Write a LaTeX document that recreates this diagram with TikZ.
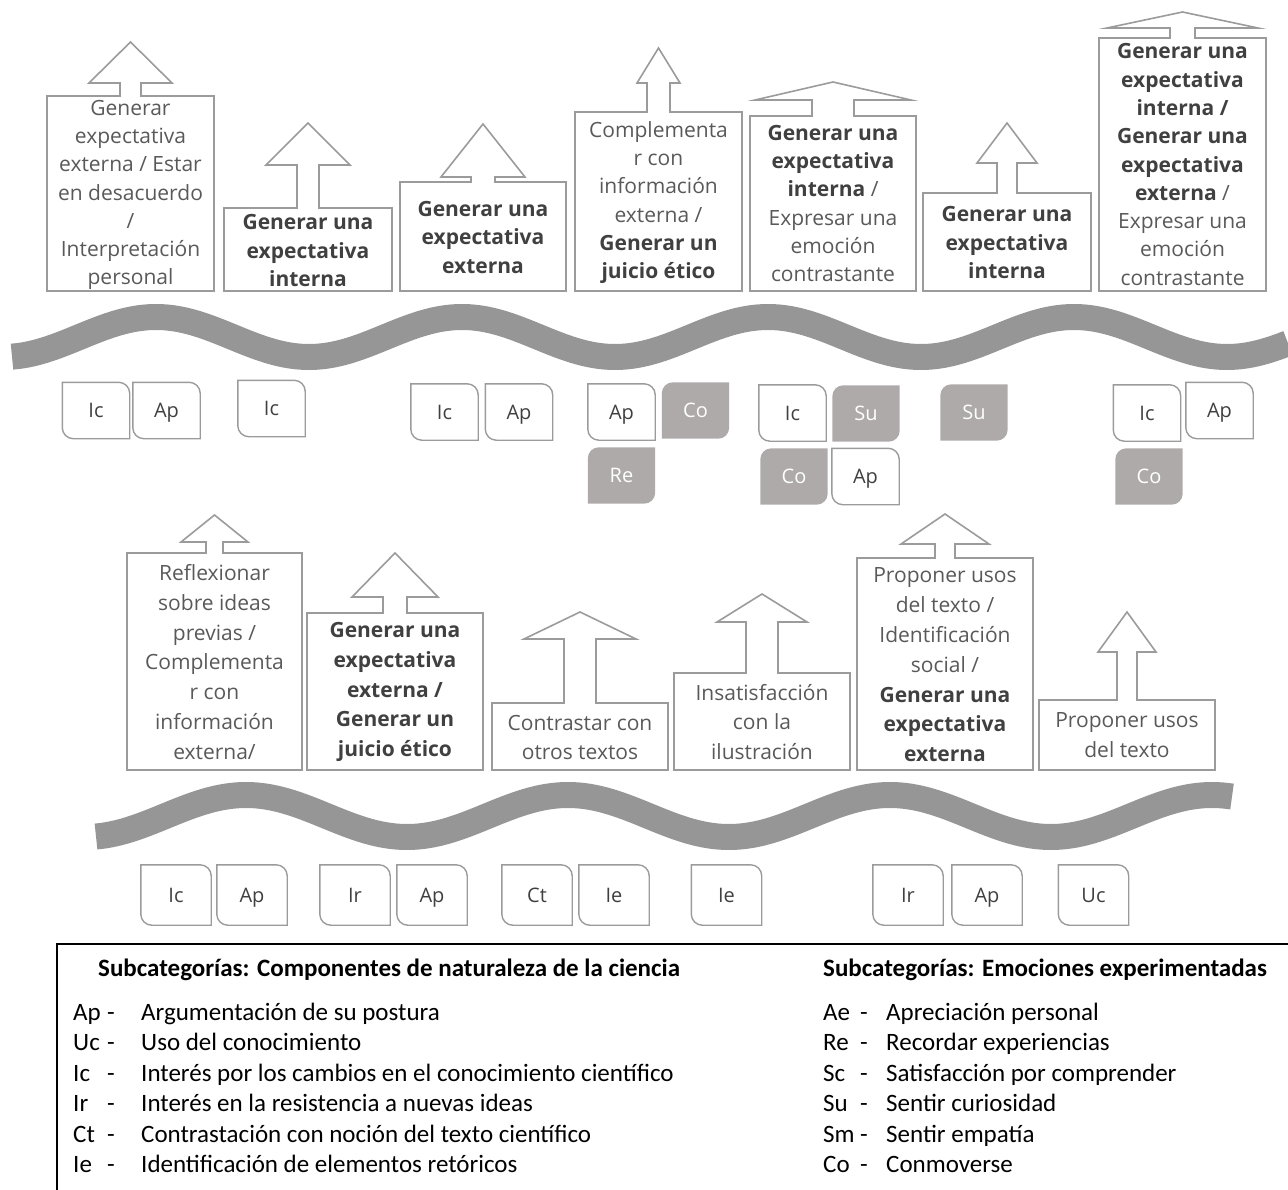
\documentclass[tikz,border=0pt]{standalone}
\usepackage{fontspec}
\setmainfont{Open Sans}
\newfontfamily\legfont{Carlito}
\usepackage{xcolor}

\definecolor{boxline}{RGB}{155,155,155}
\definecolor{wavegray}{RGB}{150,150,150}
\definecolor{tagfill}{RGB}{174,170,170}
\definecolor{txtgray}{RGB}{89,89,89}
\definecolor{txtbold}{RGB}{64,64,64}

\newcommand{\bt}[1]{\textbf{\color{txtbold}#1}}

\pgfdeclarelayer{back}
\pgfsetlayers{back,main}

\tikzset{
  callout/.style={draw=boxline, line width=1.6pt},
  boxtxt/.style={align=center, inner sep=0pt, text=txtgray,
    font=\fontsize{21}{28.3}\selectfont},
  boxtxtlow/.style={boxtxt, font=\fontsize{21}{29.8}\selectfont},
  tagtxt/.style={inner sep=0pt, minimum width=67pt, minimum height=56pt,
    text height=15pt, text depth=1pt, text=txtbold, font=\fontsize{20}{24}\selectfont},
  tagedge/.style={draw=boxline, line width=1.4pt},
  wave/.style={draw=wavegray, line width=26pt},
  legtitle/.style={anchor=west, inner sep=0pt, font=\legfont\bfseries\fontsize{25}{30}\selectfont},
  legitem/.style={inner sep=0pt, text height=17pt, text depth=6pt,
    font=\legfont\fontsize{25}{30}\selectfont},
}

% white tag: rounded top right and bottom left
\newcommand{\wtag}[4]{%
  \node[tagtxt] (#1) at (#2,#3) {#4};
  \draw[tagedge] (#1.north west) -- ([xshift=-11pt]#1.north east)
    arc[start angle=90,end angle=0,radius=11pt] -- (#1.south east)
    -- ([xshift=11pt]#1.south west)
    arc[start angle=270,end angle=180,radius=11pt] -- cycle;}
% grey tag: rounded top left and bottom right
\newcommand{\gtag}[4]{%
  \node[tagtxt,text=white] (#1) at (#2,#3) {#4};
  \begin{pgfonlayer}{back}
  \fill[tagfill] ([yshift=-11pt]#1.north west)
    arc[start angle=180,end angle=90,radius=11pt] -- (#1.north east)
    -- ([yshift=11pt]#1.south east)
    arc[start angle=0,end angle=-90,radius=11pt] -- (#1.south west) -- cycle;
  \end{pgfonlayer}}

\begin{document}
\begin{tikzpicture}[x=1pt, y=-1pt]
  \useasboundingbox (0,0) rectangle (1288,1190);

  % upper row of callouts
  \draw[callout] (47,291) |- (120,96) |- (89,83) -- (130.5,42) -- (172,83) -| (141,96) -| (214,291) -- cycle;
  \draw[callout] (224,291) |- (297,208) |- (266,165) -- (308,123) -- (350,165) -| (319,208) -| (392,291) -- cycle;
  \draw[callout] (400,291) |- (471,182) |- (441,177) -- (483,124) -- (525,177) -| (495,182) -| (566,291) -- cycle;
  \draw[callout] (575,291) |- (647,112) |- (637,83) -- (658.5,48) -- (680,83) -| (670,112) -| (742,291) -- cycle;
  \draw[callout] (750,291) |- (812,116) |- (755,100) -- (833,82) -- (911,100) -| (854,116) -| (916,291) -- cycle;
  \draw[callout] (923,291) |- (997,193) |- (977,163) -- (1007,123) -- (1037,163) -| (1017,193) -| (1091,291) -- cycle;
  \draw[callout] (1099,291) |- (1170,38) |- (1107,28) -- (1182.5,12) -- (1258,28) -| (1195,38) -| (1266,291) -- cycle;

  \node[boxtxt] (b1) at (130.5,195) {Generar\\expectativa\\externa / Estar\\en desacuerdo\\/\\Interpretación\\personal};
  \node[boxtxt] (b2) at (308,250.5) {\bt{Generar una}\\\bt{expectativa}\\\bt{interna}};
  \node[boxtxt] (b3) at (483,237.5) {\bt{Generar una}\\\bt{expectativa}\\\bt{externa}};
  \node[boxtxt] (b4) at (658.5,202.5) {Complementa\\r con\\información\\externa /\\\bt{Generar un}\\\bt{juicio ético}};
  \node[boxtxt] (b5) at (833,203.5) {\bt{Generar una}\\\bt{expectativa}\\\bt{interna} /\\Expresar una\\emoción\\contrastante};
  \node[boxtxt] (b6) at (1007,242.5) {\bt{Generar una}\\\bt{expectativa}\\\bt{interna}};
  \node[boxtxt] (b7) at (1182.5,164.5) {\bt{Generar una}\\\bt{expectativa}\\\bt{interna /}\\\bt{Generar una}\\\bt{expectativa}\\\bt{externa} /\\Expresar una\\emoción\\contrastante};

  % upper wave
  \draw[wave] plot[domain=12:1288, samples=160, smooth] (\x,{337-20*cos(((\x-156)/306)*360)});

  % upper tags
  \wtag{u1}{96}{410.5}{Ic}
  \wtag{u2}{166.5}{410.5}{Ap}
  \wtag{u3}{271.5}{408.5}{Ic}
  \wtag{u4}{444.5}{412}{Ic}
  \wtag{u5}{519}{412}{Ap}
  \wtag{u6}{621.5}{412}{Ap}
  \gtag{u7}{695.5}{410.5}{Co}
  \gtag{u8}{621.5}{475.5}{Re}
  \wtag{u9}{792.5}{413}{Ic}
  \gtag{u10}{866}{413.5}{Su}
  \gtag{u11}{794}{476.5}{Co}
  \wtag{u12}{865.5}{476.5}{Ap}
  \gtag{u13}{974}{412.5}{Su}
  \wtag{u14}{1147}{413}{Ic}
  \wtag{u15}{1219.5}{410.5}{Ap}
  \gtag{u16}{1149}{476.5}{Co}

  % lower row of callouts
  \draw[callout] (127,770) |- (206,553) |- (181,542) -- (214.5,515) -- (248,542) -| (223,553) -| (302,770) -- cycle;
  \draw[callout] (307,770) |- (383,613) |- (352,597) -- (395,553) -- (438,597) -| (407,613) -| (483,770) -- cycle;
  \draw[callout] (492,770) |- (564,703) |- (524,639) -- (580,612) -- (636,639) -| (596,703) -| (668,770) -- cycle;
  \draw[callout] (674,770) |- (746,673) |- (717,622) -- (762,594) -- (807,622) -| (778,673) -| (850,770) -- cycle;
  \draw[callout] (857,770) |- (935,558) |- (901,544) -- (945,514) -- (989,544) -| (955,558) -| (1033,770) -- cycle;
  \draw[callout] (1039,770) |- (1117,700) |- (1098,652) -- (1127,612) -- (1156,652) -| (1137,700) -| (1215,770) -- cycle;

  \node[boxtxtlow] (c1) at (214.5,662) {Reflexionar\\sobre ideas\\previas /\\Complementa\\r con\\información\\externa/};
  \node[boxtxtlow] (c2) at (395,692) {\bt{Generar una}\\\bt{expectativa}\\\bt{externa /}\\\bt{Generar un}\\\bt{juicio ético}};
  \node[boxtxtlow] (c3) at (580,737.5) {Contrastar con\\otros textos};
  \node[boxtxtlow] (c4) at (762,722) {Insatisfacción\\con la\\ilustración};
  \node[boxtxtlow] (c5) at (945,665) {Proponer usos\\del texto /\\Identificación\\social /\\\bt{Generar una}\\\bt{expectativa}\\\bt{externa}};
  \node[boxtxtlow] (c6) at (1127,735.5) {Proponer usos\\del texto};

  % lower wave
  \draw[wave] plot[domain=96:1232, samples=160, smooth] (\x,{816-21*cos(((\x-246)/322)*360)});

  % lower tags
  \begin{scope}[tagtxt/.append style={minimum width=70pt, minimum height=60pt}]
    \wtag{l1}{176}{895}{Ic}
    \wtag{l2}{252}{895}{Ap}
    \wtag{l3}{355}{895}{Ir}
    \wtag{l4}{432}{895}{Ap}
    \wtag{l5}{537}{895}{Ct}
    \wtag{l6}{614}{895}{Ie}
    \wtag{l7}{726.5}{895}{Ie}
    \wtag{l8}{908}{895}{Ir}
    \wtag{l9}{987}{895}{Ap}
    \wtag{l10}{1093.5}{895}{Uc}
  \end{scope}

  % legend
  \draw[line width=2pt] (57,1190) |- (1288,944);
  \node[legtitle] (t1) at (98,970) {Subcategorías: Componentes de naturaleza de la ciencia};
  \node[legtitle] (t2) at (823,970) {Subcategorías: Emociones experimentadas};
  \foreach \ab/\de [count=\i] in {Ap/Argumentación de su postura, Uc/Uso del conocimiento,
      Ic/Interés por los cambios en el conocimiento científico, Ir/Interés en la resistencia a nuevas ideas,
      Ct/Contrastación con noción del texto científico, Ie/Identificación de elementos retóricos}{
    \node[legitem, anchor=west] (la\i) at (73,{1015+(\i-1)*30.4}) {\ab};
    \node[legitem] (lm\i) at (111,{1015+(\i-1)*30.4}) {-};
    \node[legitem, anchor=west] (ld\i) at (141,{1015+(\i-1)*30.4}) {\de};
  }
  \foreach \ab/\de [count=\i] in {Ae/Apreciación personal, Re/Recordar experiencias,
      Sc/Satisfacción por comprender, Su/Sentir curiosidad, Sm/Sentir empatía, Co/Conmoverse}{
    \node[legitem, anchor=west] (ra\i) at (823,{1015+(\i-1)*30.4}) {\ab};
    \node[legitem] (rm\i) at (864,{1015+(\i-1)*30.4}) {-};
    \node[legitem, anchor=west] (rd\i) at (886,{1015+(\i-1)*30.4}) {\de};
  }
\end{tikzpicture}
\end{document}
